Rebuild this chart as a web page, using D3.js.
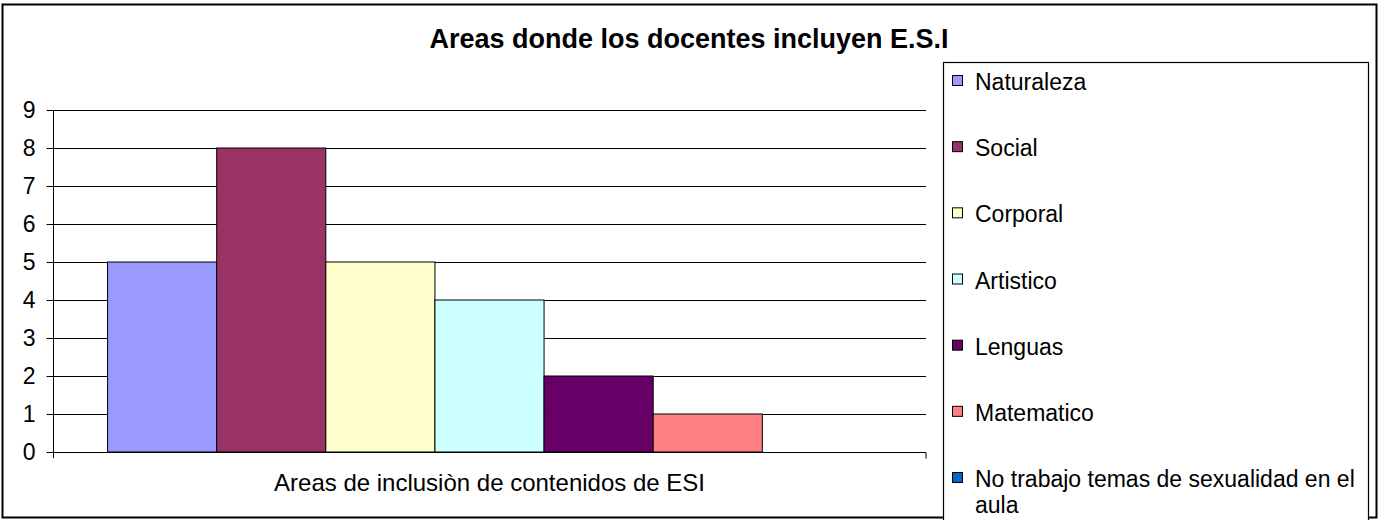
<!DOCTYPE html>
<html><head><meta charset="utf-8">
<script src="https://cdn.jsdelivr.net/npm/d3@7"></script>
<style>body{margin:0;background:#fff}svg{display:block}text{font-family:"Liberation Sans",Arial,sans-serif}</style>
</head><body>
<script>
const title = "Areas donde los docentes incluyen E.S.I";
const category = "Areas de inclusiòn de contenidos de ESI";
const series = ["Naturaleza","Social","Corporal","Artistico","Lenguas","Matematico","No trabajo temas de sexualidad en el aula"];
const values = [5,8,5,4,2,1,0];
const colors = ["#9999FF","#993366","#FFFFCC","#CCFFFF","#660066","#FF8080","#0066CC"];
const yTicks = [0,1,2,3,4,5,6,7,8,9];

const W=1383,H=520, FS=23;
const svg=d3.select("body").append("svg").attr("width",W).attr("height",H);
svg.append("rect").attr("x",2.5).attr("y",4.5).attr("width",1374).attr("height",513).attr("fill","#fff").attr("stroke","#000").attr("stroke-width",2);
svg.append("text").attr("x",689).attr("y",48).attr("text-anchor","middle").attr("font-weight","bold").attr("font-size",27).attr("fill","#000").text(title);

const L=53,R=926,T=110,B=452;
const y=d3.scaleLinear().domain([0,9]).range([B,T]);
const xc=d3.scaleBand().domain([category]).range([L,R]);
const xs=d3.scaleBand().domain(series).range([0,xc.bandwidth()]).paddingInner(0).paddingOuter(0.5);

// gridlines
svg.append("g").selectAll("line").data(yTicks.filter(d=>d>0)).join("line")
 .attr("x1",L).attr("x2",R).attr("y1",d=>Math.round(y(d))+0.5).attr("y2",d=>Math.round(y(d))+0.5)
 .attr("stroke","#000").attr("stroke-width",1);

// bars
svg.append("g").selectAll("rect").data(series.filter((d,i)=>values[i]>0)).join("rect")
 .attr("x",d=>xc(category)+xs(d)).attr("width",xs.bandwidth())
 .attr("y",d=>y(values[series.indexOf(d)])).attr("height",d=>B-y(values[series.indexOf(d)]))
 .attr("fill",d=>colors[series.indexOf(d)]).attr("stroke","#000").attr("stroke-width",1);

// y axis
const ya=svg.append("g").attr("transform",`translate(${L+0.5},0)`)
 .call(d3.axisLeft(y).tickValues(yTicks).tickSize(7).tickPadding(11).tickFormat(d3.format("d")));
ya.select(".domain").attr("stroke","#000").attr("d",`M0,${T}V${B+6}`);
ya.selectAll(".tick line").attr("stroke","#000");
ya.selectAll(".tick text").attr("font-size",FS).attr("fill","#000").attr("font-family","Liberation Sans, Arial, sans-serif");

// x axis
const xa=svg.append("g").attr("transform",`translate(0,${B+0.5})`)
 .call(d3.axisBottom(xc).tickSize(0).tickPadding(21));
xa.select(".domain").attr("stroke","#000").attr("d",`M${L},0H${R}V6`);
xa.selectAll(".tick text").attr("font-size",24).attr("fill","#000").attr("font-family","Liberation Sans, Arial, sans-serif");

// legend
const lg=svg.append("g");
lg.append("rect").attr("x",943.5).attr("y",62.5).attr("width",425).attr("height",470).attr("fill","#fff").attr("stroke","#000").attr("stroke-width",1.2);
const ly=d3.scalePoint().domain(series).range([90,487]);
const items=lg.selectAll("g.it").data(series).join("g").attr("class","it").attr("transform",d=>`translate(952,${ly(d)})`);
items.append("rect").attr("x",0.5).attr("y",-14.5).attr("width",10).attr("height",10).attr("fill",(d,i)=>colors[i]).attr("stroke","#000");
items.each(function(d){
  const g=d3.select(this);
  const t=g.append("text").attr("x",23).attr("y",0).attr("font-size",FS).attr("fill","#000");
  if(d.length>30){
    t.append("tspan").attr("x",23).text("No trabajo temas de sexualidad en el");
    t.append("tspan").attr("x",23).attr("dy",26).text("aula");
  } else t.text(d);
});
</script>
</body></html>
